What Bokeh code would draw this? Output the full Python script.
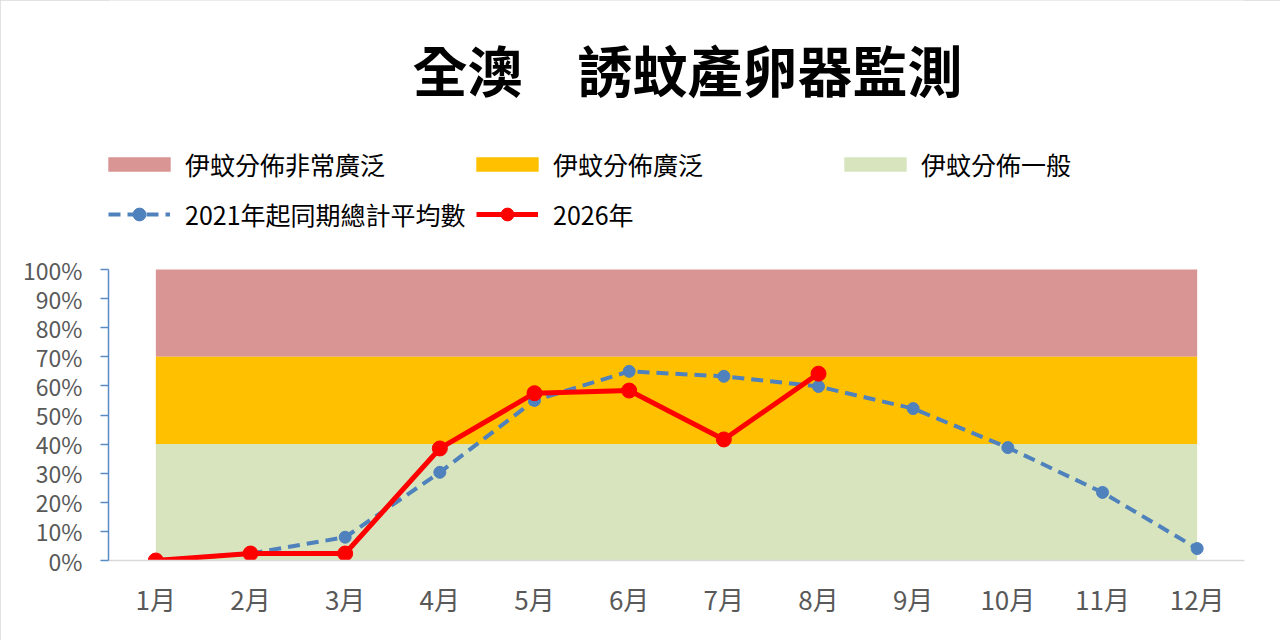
from bokeh.plotting import figure
from bokeh.models import (Range1d, FixedTicker, PrintfTickFormatter, Legend,
                          LegendItem, Label)
from bokeh.embed import file_html
from bokeh.resources import INLINE

# ---- data ----
months = ["1月", "2月", "3月", "4月", "5月", "6月", "7月", "8月", "9月", "10月", "11月", "12月"]
month_pos = [1, 2, 3, 4, 5, 6, 7, 8, 9, 10, 11, 12]
avg_values = [0, 2.4, 8.0, 30.3, 55.0, 65.0, 63.3, 59.8, 52.2, 38.8, 23.4, 4.1]
values_2026 = [0, 2.4, 2.4, 38.5, 57.5, 58.4, 41.6, 64.2]
band_labels = ["伊蚊分佈非常廣泛", "伊蚊分佈廣泛", "伊蚊分佈一般"]
band_bottoms = [70, 40, 0]
band_tops = [100, 70, 40]
band_colors = ["#D99594", "#FFC000", "#D7E4BD"]
y_ticks = [0, 10, 20, 30, 40, 50, 60, 70, 80, 90, 100]
title_text = "全澳　誘蚊產卵器監測"
avg_label = "2021年起同期總計平均數"
label_2026 = "2026年"

FONT = "Noto Sans CJK TC"
W, H = 1280, 640
FRAME_BOTTOM_BORDER = 80
PX_PER_UNIT = 2.91  # vertical scale of the value axis
y_top = (H - FRAME_BOTTOM_BORDER) / PX_PER_UNIT  # frame extends up to hold title/legend

p = figure(width=W, height=H, output_backend="svg", toolbar_location=None,
           x_range=Range1d(0.5, 12.5), y_range=Range1d(0, y_top),
           min_border_left=108, min_border_right=36,
           min_border_top=0, min_border_bottom=FRAME_BOTTOM_BORDER,
           styles={"outline": "2px solid #D9D9D9", "outline-offset": "-2px"})
p.outline_line_color = None
p.xgrid.visible = False
p.ygrid.visible = False
p.background_fill_color = "white"
p.border_fill_color = "white"

# bands
band_renderers = []
for i in range(3):
    r = p.quad(left=[month_pos[0]], right=[month_pos[-1]], bottom=[band_bottoms[i]],
               top=[band_tops[i]], fill_color=band_colors[i], line_color=None)
    band_renderers.append(r)

# average line
avg_line = p.line(month_pos, avg_values, line_color="#4F81BD", line_width=4,
                  line_dash="12 7")
avg_pts = p.scatter(month_pos, avg_values, size=12, fill_color="#4F81BD",
                    line_color="#4F81BD")

# 2026 line
x26 = month_pos[:len(values_2026)]
red_line = p.line(x26, values_2026, line_color="#FF0000", line_width=5)
red_pts = p.scatter(x26, values_2026, size=15, fill_color="#FF0000", line_color="#FF0000")

# axes
xa = p.xaxis[0]
xa.ticker = FixedTicker(ticks=month_pos)
xa.major_label_overrides = {m: lab for m, lab in zip(month_pos, months)}
xa.axis_line_color = "#D9D9D9"
xa.axis_line_width = 1.5
xa.major_tick_line_color = None
xa.minor_tick_line_color = None
xa.major_tick_out = 0
xa.major_label_standoff = 19
xa.major_label_text_font = FONT
xa.major_label_text_font_size = "26px"
xa.major_label_text_color = "#595959"

ya = p.yaxis[0]
ya.ticker = FixedTicker(ticks=y_ticks)
ya.bounds = (0, 100)
ya.formatter = PrintfTickFormatter(format="%d%%")
ya.axis_line_color = "#5B8BC5"
ya.axis_line_width = 1.5
ya.major_tick_line_color = "#5B8BC5"
ya.major_tick_line_width = 1.5
ya.major_tick_in = 0
ya.major_tick_out = 8
ya.minor_tick_line_color = None
ya.major_label_standoff = 18
ya.major_label_text_font = FONT
ya.major_label_text_font_size = "23px"
ya.major_label_text_color = "#595959"

# title
title = Label(x=579, y=493, x_units="screen", y_units="screen", text=title_text,
              text_font=FONT, text_font_size="55px", text_font_style="bold",
              text_align="center", text_baseline="middle", text_color="black")
p.add_layout(title)

# legends
leg1 = Legend(items=[LegendItem(label=band_labels[i], renderers=[band_renderers[i]])
                     for i in range(3)],
              orientation="horizontal", location=(-8, 378),
              glyph_width=78, glyph_height=18, label_standoff=7, label_width=283,
              spacing=0, padding=0, margin=0,
              label_text_font=FONT, label_text_font_size="25px",
              label_text_color="black", border_line_alpha=0,
              background_fill_alpha=0)
leg2 = Legend(items=[LegendItem(label=avg_label, renderers=[avg_line, avg_pts]),
                     LegendItem(label=label_2026, renderers=[red_line, red_pts])],
              orientation="horizontal", location=(0, 328),
              glyph_width=62, glyph_height=32, label_standoff=15, label_width=291,
              spacing=0, padding=0, margin=0,
              label_text_font=FONT, label_text_font_size="25px",
              label_text_color="black", border_line_alpha=0,
              background_fill_alpha=0)
p.add_layout(leg1)
p.add_layout(leg2)

open("out.html", "w").write(file_html(p, INLINE))
